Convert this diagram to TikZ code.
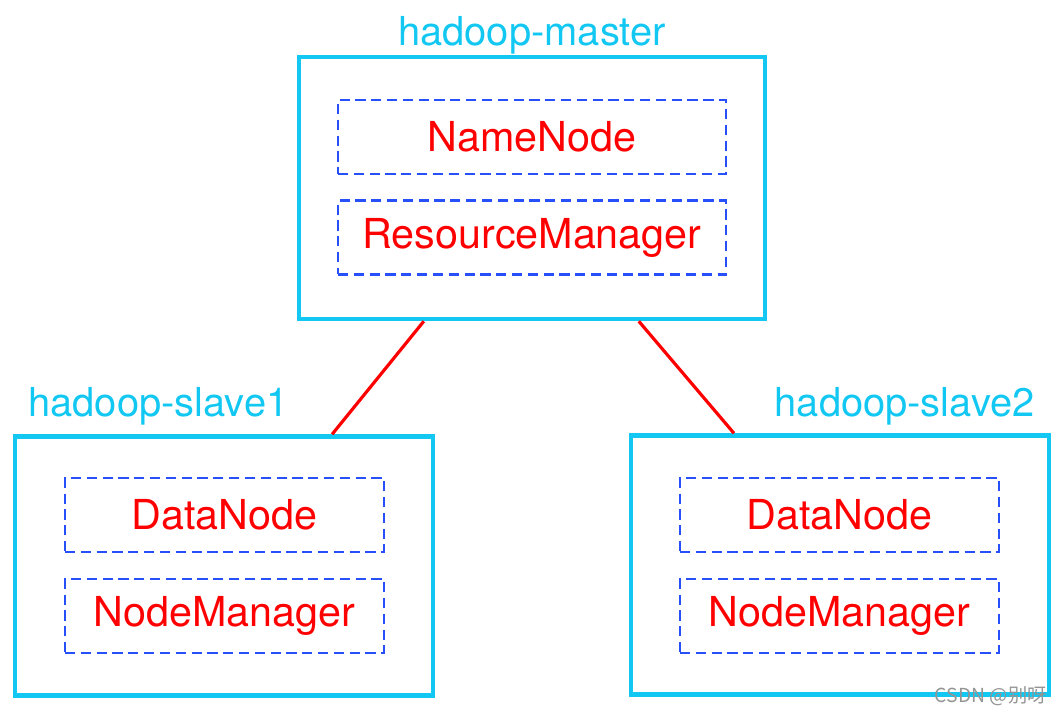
\documentclass[tikz,border=0pt]{standalone}
\usepackage{fontspec}
\setmainfont{TeX Gyre Heros}
\newfontfamily\cjkfont{Noto Sans CJK SC}
\usetikzlibrary{positioning}
\usetikzlibrary{calc}

\definecolor{hostcyan}{RGB}{18,200,242}
\definecolor{procblue}{RGB}{40,80,250}
\definecolor{procred}{RGB}{255,0,0}

\tikzset{
  host/.style={draw=hostcyan, line width=2.6pt, minimum width=8.36cm, minimum height=5.18cm},
  proc/.style={draw=procblue, line width=1.3pt, dash pattern=on 5.8pt off 3.2pt,
               minimum width=6.38cm, minimum height=1.48cm, text=procred,
               font=\fontsize{23.5}{27}\selectfont},
  hostlabel/.style={text=hostcyan, inner sep=0pt, font=\fontsize{22.7}{26}\selectfont},
  link/.style={draw=procred, line width=1.8pt}
}

\begin{document}
\begin{tikzpicture}[x=0.02cm, y=-0.02cm]

        \useasboundingbox (0,0) rectangle (1062,714);

        % master
        \node[host, minimum width=9.32cm, minimum height=5.24cm] (master) at (532,188) {};
        \node[proc, minimum width=7.76cm] (namenode) at (532,137) {NameNode};
        \node[proc, minimum width=7.76cm] (resmgr) at (532,237.5) {ResourceManager};
        \node[hostlabel, anchor=base] (master_label) at (532,45) {hadoop-master};

        % slave 1
        \node[host] (slave1) at (224,566) {};
        \node[proc] (datanode1) at (224.5,515) {DataNode};
        \node[proc] (nodemgr1) at (224.5,616) {NodeManager};
        \node[hostlabel, anchor=base west] (slave1_label) at (28,416) {hadoop-slave1};

        % slave 2
        \node[host] (slave2) at (840,565) {};
        \node[proc] (datanode2) at (839.5,515) {DataNode};
        \node[proc] (nodemgr2) at (839.5,616) {NodeManager};
        \node[hostlabel, anchor=base east] (slave2_label) at (1035,416) {hadoop-slave2};

        % links
        \draw[link] ($(master.south west)!0.27!(master.south east)$) -- ($(slave1.north west)!0.756!(slave1.north east)$);
        \draw[link] ($(master.south west)!0.727!(master.south east)$) -- ($(slave2.north west)!0.249!(slave2.north east)$);

        % watermark
        \node[text=black!42, inner sep=0pt, anchor=base east, font=\fontsize{11}{13}\cjkfont] (watermark) at (1047,702) {CSDN @别呀};

\end{tikzpicture}
\end{document}
